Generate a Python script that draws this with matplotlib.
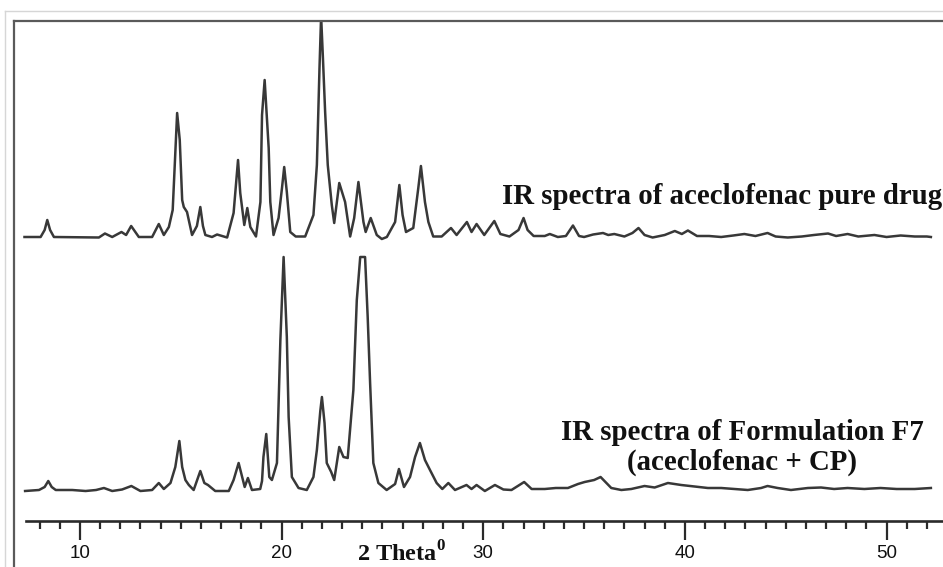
import numpy as np
import matplotlib
matplotlib.use("Agg")
import matplotlib.pyplot as plt
from matplotlib.lines import Line2D
from matplotlib.ticker import FixedLocator

# ---------------- data ----------------
theta_pure = [7.25, 8.05, 8.25, 8.38, 8.52, 8.71, 10.94, 11.24, 11.6, 12.06, 12.29, 12.54,
              12.92, 13.58, 13.91, 14.16, 14.41, 14.6, 14.72, 14.82, 14.95, 15.07, 15.15,
              15.31, 15.56, 15.8, 15.97, 16.1, 16.22, 16.55, 16.8, 17.3, 17.62, 17.84, 17.95,
              18.15, 18.3, 18.45, 18.73, 18.95, 19.03, 19.16, 19.36, 19.44, 19.6, 19.85, 20.02,
              20.13, 20.26, 20.43, 20.7, 21.17, 21.58, 21.75, 21.88, 21.96, 22.05, 22.16, 22.29,
              22.49, 22.61, 22.86, 23.15, 23.4, 23.6, 23.81, 24.06, 24.17, 24.42, 24.72, 24.97,
              25.22, 25.63, 25.84, 26.0, 26.17, 26.53, 26.78, 26.91, 27.11, 27.28, 27.52, 27.94,
              28.4, 28.68, 29.19, 29.42, 29.67, 30.05, 30.55, 30.85, 31.3, 31.75, 32.0, 32.2,
              32.5, 33.05, 33.3, 33.7, 34.1, 34.45, 34.75, 35.0, 35.45, 35.94, 36.2, 36.5, 37.0,
              37.4, 37.7, 38.0, 38.4, 39.0, 39.5, 39.85, 40.15, 40.6, 41.2, 41.8, 42.4, 42.95,
              43.5, 44.1, 44.5, 45.1, 45.8, 46.4, 47.1, 47.5, 48.07, 48.6, 49.4, 50.0, 50.7,
              51.4, 52.0, 52.2]
intensity_pure = [1, 1, 8, 18, 8, 1, 0.5, 4.5, 1, 6, 3, 12,
                  1, 1, 14, 3, 11, 28, 80, 125, 98, 38, 31,
                  26, 3, 12, 31, 12, 3, 1, 3.5, 0.5, 25, 78, 45,
                  13, 30, 11, 1.5, 36, 123, 158, 90, 36, 3, 20, 50,
                  71, 46, 6, 1.5, 1.5, 23, 73, 170, 222, 180, 126, 73,
                  33, 15, 55, 36, 1.5, 20, 56, 16, 6, 20, 3, -1,
                  1, 16, 53, 23, 6, 10, 50, 72, 36, 16, 1.5, 1.5,
                  10, 3, 16, 6, 14, 3, 17, 4, 1.5, 8, 20, 8,
                  2, 2, 4, 1, 2, 12.5, 2, 1, 3.5, 5, 3, 4, 1.5,
                  5, 10, 3, 0.5, 3, 7, 4, 7.5, 2, 2, 1, 2.5, 4,
                  2, 5, 1.5, 0.5, 1.5, 3, 4.5, 2, 4, 1.5, 3, 1, 2.5,
                  1.5, 1.5, 1]

theta_f7 = [7.28, 7.97, 8.25, 8.43, 8.6, 8.8, 9.62, 10.28, 10.8, 11.19, 11.6, 12.09, 12.55,
            13.0, 13.58, 13.91, 14.16, 14.49, 14.73, 14.93, 15.07, 15.23, 15.4, 15.64, 15.97,
            16.17, 16.35, 16.71, 17.38, 17.62, 17.87, 18.17, 18.33, 18.53, 18.94, 19.03, 19.1,
            19.24, 19.39, 19.52, 19.77, 19.94, 20.1, 20.26, 20.35, 20.51, 20.84, 21.25, 21.58,
            21.75, 21.92, 22.0, 22.13, 22.24, 22.46, 22.61, 22.86, 23.07, 23.28, 23.56, 23.73,
            23.9, 24.14, 24.27, 24.39, 24.55, 24.8, 25.21, 25.63, 25.82, 26.07, 26.37, 26.62,
            26.86, 27.11, 27.36, 27.69, 27.97, 28.27, 28.6, 29.17, 29.42, 29.67, 30.08, 30.58,
            31.0, 31.4, 32.03, 32.4, 33.05, 33.6, 34.2, 34.7, 35.03, 35.5, 35.82, 36.35, 36.85,
            37.34, 38.0, 38.5, 39.16, 39.82, 40.48, 41.14, 41.8, 42.46, 43.12, 43.78, 44.1,
            44.6, 45.26, 46.1, 46.75, 47.4, 48.07, 48.9, 49.7, 50.5, 51.4, 52.2]
intensity_f7 = [0, 1, 4, 10, 4, 1, 1, 0, 1, 3, 0, 1.5, 5,
                0, 1, 8, 2, 8, 24, 50, 24, 11, 6, 1, 20,
                8, 6, 0, 0, 11, 28, 4, 13, 1, 2, 10, 34,
                57, 14, 11, 28, 151, 234, 154, 74, 14, 3, 1, 14,
                41, 80, 94, 68, 28, 19, 11, 44, 34, 33, 101, 191,
                234, 234, 174, 108, 28, 8, 1, 7, 22, 4, 14, 34,
                48, 31, 21, 8, 2, 8, 1, 6, 2, 6, 0, 6,
                1.5, 1, 9, 2, 2, 3, 3, 7, 9, 11, 14, 3, 1,
                2, 5, 3.5, 8, 6, 4.5, 3, 3, 2, 1, 3, 5,
                3, 1, 3, 3.5, 2, 3, 2, 3, 2, 2, 3]

offset_pure = 283
offset_f7 = 30

label_pure = "IR spectra of aceclofenac pure drug"
label_f7_lines = ["IR spectra of Formulation F7", "(aceclofenac + CP)"]
xlabel = r"2 Theta$^{\mathbf{0}}$"
major_ticks = [10, 20, 30, 40, 50]
major_ticklabels = ["10", "20", "30", "40", "50"]
minor_ticks = [t for t in range(8, 53) if t % 10 != 0]

# ---------------- figure ----------------
plt.rcParams['mathtext.fontset'] = 'custom'
plt.rcParams['mathtext.rm'] = 'Liberation Serif'
plt.rcParams['mathtext.bf'] = 'Liberation Serif:bold'

W, H = 943, 567
fig = plt.figure(figsize=(W / 100, H / 100), dpi=100)
fig.patch.set_facecolor('white')

ax_left, ax_top, ax_bottom = 14, 21, 521
ax = fig.add_axes([ax_left / W, 1 - ax_bottom / H, (W - ax_left + 2) / W, (ax_bottom - ax_top) / H])
x_min, x_max = 6.73, 52.9
ax.set_xlim(x_min, x_max)
ax.set_ylim(0, 500)

line_color = '#383838'
ax.plot(theta_pure, np.array(intensity_pure) + offset_pure, color=line_color, lw=1.8,
        solid_joinstyle='round')
ax.plot(theta_f7, np.array(intensity_f7) + offset_f7, color=line_color, lw=1.8,
        solid_joinstyle='round')

# spines
for s in ['left', 'right']:
    ax.spines[s].set_visible(False)
ax.spines['top'].set_color('#5a5a5a')
ax.spines['top'].set_linewidth(1.6)
ax.spines['bottom'].set_color('#2a2a2a')
ax.spines['bottom'].set_linewidth(1.9)
ax.spines['bottom'].set_bounds(7.33, x_max)

ax.set_yticks([])
ax.xaxis.set_major_locator(FixedLocator(major_ticks))
ax.set_xticklabels(major_ticklabels)
ax.xaxis.set_minor_locator(FixedLocator(minor_ticks))
ax.tick_params(axis='x', which='major', direction='out', length=13.5, width=1.6,
               color='#2a2a2a', pad=3.5, labelsize=13.5, labelcolor='#111111')
ax.tick_params(axis='x', which='minor', direction='out', length=5.8, width=1.6, color='#2a2a2a')
for lab in ax.get_xticklabels():
    lab.set_family(['Liberation Sans', 'DejaVu Sans'])

# left frame line and light outer border (figure level)
fig.add_artist(Line2D([ax_left / W, ax_left / W], [0, 1 - ax_top / H], color='#5a5a5a', lw=1.6))
fig.add_artist(Line2D([5 / W, 5 / W], [0, 1 - 11 / H], color='#d6d6d6', lw=1.0))
fig.add_artist(Line2D([5 / W, 1], [1 - 11 / H, 1 - 11 / H], color='#d6d6d6', lw=1.0))

serif = ['Liberation Serif', 'DejaVu Serif']
ax.text(30.92, 521 - 197, label_pure, ha='left', va='center', fontsize=20.8,
        fontweight='bold', family=serif, color='#111111')
ax.text(42.85, 521 - 433, label_f7_lines[0], ha='center', va='center', fontsize=20.8,
        fontweight='bold', family=serif, color='#111111')
ax.text(42.85, 521 - 462, label_f7_lines[1], ha='center', va='center', fontsize=20.8,
        fontweight='bold', family=serif, color='#111111')

fig.text(357 / W, 1 - 561 / H, xlabel, ha='left', va='baseline', fontsize=17.5,
         fontweight='bold', family=serif, color='#111111')

fig.savefig('out.png', dpi=100)
